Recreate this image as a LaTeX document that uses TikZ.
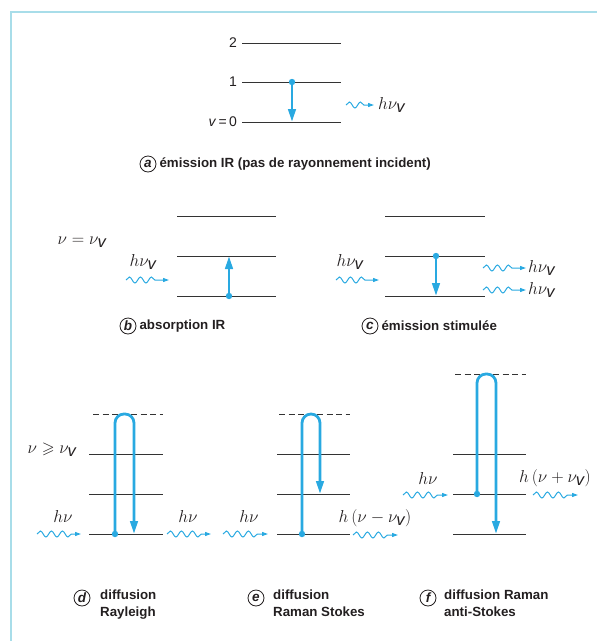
\documentclass[tikz,border=0pt]{standalone}
\usepackage{amssymb}
\usepackage{fontspec}
\setmainfont{Liberation Sans}
\usetikzlibrary{positioning,arrows.meta,decorations.pathmorphing}
\definecolor{framecyan}{HTML}{A8DDE9}
\definecolor{beamblue}{HTML}{29A9E1}
\definecolor{levelgray}{HTML}{333333}
\definecolor{inkdark}{HTML}{231F20}

\tikzset{
  levelline/.style={draw=levelgray, line width=1pt},
  virtual/.style={draw=levelgray, line width=0.9pt, dash pattern=on 6pt off 3.5pt},
  jump/.style={draw=beamblue, line width=2.8pt, -{Triangle[length=13pt,width=7.5pt]}},
  looppath/.style={jump, rounded corners=9pt},
  photon/.style={draw=beamblue, line width=1pt, -{Triangle[length=6pt,width=4pt]},
    decorate, decoration={snake, amplitude=3pt, segment length=11pt, post length=9pt}},
  lab/.style={text=inkdark, inner sep=0pt, font=\fontsize{14}{16}\selectfont},
  hnu/.style={text=inkdark, inner sep=0pt, font=\fontsize{16.5}{18}\selectfont},
  tag/.style={circle, draw=inkdark, line width=0.8pt, minimum size=16pt, inner sep=0pt,
    text=inkdark, font=\fontsize{13.5}{15}\selectfont\bfseries\itshape},
  captext/.style={text=inkdark, inner sep=0pt, align=left, font=\fontsize{13.3}{17}\selectfont\bfseries}
}

\begin{document}
\begin{tikzpicture}[x=1pt,y=-1pt]
\useasboundingbox (0,0) rectangle (597,641);
\draw[framecyan, line width=2pt] (11,641) -- (11,12) -- (597,12);

% (a) emission IR
\coordinate (a0l) at (242,122); \coordinate (a0r) at (341,122);
\coordinate (a1l) at (242,82);  \coordinate (a1r) at (341,82);
\coordinate (a2l) at (242,43);  \coordinate (a2r) at (341,43);
\draw[levelline] (a0l) -- (a0r);
\draw[levelline] (a1l) -- (a1r);
\draw[levelline] (a2l) -- (a2r);
\node[lab, left=5pt of a2l] (a2t) {2};
\node[lab, left=5pt of a1l] (a1t) {1};
\node[lab, left=5pt of a0l] (a0t) {\textit{v}\,=\,0};
\coordinate (aup) at (292,82); \coordinate (adn) at (292,122);
\draw[jump] (aup) -- (adn);
\fill[beamblue] (aup) circle (3.2pt);
\coordinate (aph1) at (346,105); \coordinate (aph2) at (374,105);
\draw[photon] (aph1) -- (aph2);
\node[hnu, right=4pt of aph2] (aout) {$h\nu_{\textit{v}}$};
\node[tag] (ta) at (148,164) {a};
\node[captext, right=3pt of ta] (ca) {émission IR (pas de rayonnement incident)};

% (b) absorption IR
\coordinate (b0l) at (177,296); \coordinate (b0r) at (276,296);
\coordinate (b1l) at (177,256); \coordinate (b1r) at (276,256);
\coordinate (b2l) at (177,216); \coordinate (b2r) at (276,216);
\draw[levelline] (b0l) -- (b0r);
\draw[levelline] (b1l) -- (b1r);
\draw[levelline] (b2l) -- (b2r);
\node[hnu] (bcond) at (82,242) {$\nu = \nu_{\textit{v}}$};
\coordinate (bdn) at (229,296); \coordinate (bup) at (229,256);
\draw[jump] (bdn) -- (bup);
\fill[beamblue] (bdn) circle (3.2pt);
\coordinate (bph1) at (126,280); \coordinate (bph2) at (169,280);
\draw[photon] (bph1) -- (bph2);
\node[hnu] (bin) at (143,262) {$h\nu_{\textit{v}}$};
\node[tag] (tb) at (128,326) {b};
\node[captext, right=3pt of tb] (cb) {absorption IR};

% (c) emission stimulee
\coordinate (c0l) at (385,296); \coordinate (c0r) at (485,296);
\coordinate (c1l) at (385,256); \coordinate (c1r) at (485,256);
\coordinate (c2l) at (385,216); \coordinate (c2r) at (485,216);
\draw[levelline] (c0l) -- (c0r);
\draw[levelline] (c1l) -- (c1r);
\draw[levelline] (c2l) -- (c2r);
\coordinate (cup) at (436,256); \coordinate (cdn) at (436,296);
\draw[jump] (cup) -- (cdn);
\fill[beamblue] (cup) circle (3.2pt);
\coordinate (cph1) at (336,280); \coordinate (cph2) at (379,280);
\draw[photon] (cph1) -- (cph2);
\node[hnu] (cin) at (350,262) {$h\nu_{\textit{v}}$};
\coordinate (cph3) at (483,268); \coordinate (cph4) at (526,268);
\coordinate (cph5) at (483,290); \coordinate (cph6) at (526,290);
\draw[photon] (cph3) -- (cph4);
\draw[photon] (cph5) -- (cph6);
\node[hnu, right=2pt of cph4] (cout1) {$h\nu_{\textit{v}}$};
\node[hnu, right=2pt of cph6] (cout2) {$h\nu_{\textit{v}}$};
\node[tag] (tc) at (370,326) {c};
\node[captext, right=3pt of tc] (cc) {émission stimulée};

% (d) diffusion Rayleigh
\coordinate (d0l) at (89,534);  \coordinate (d0r) at (163,534);
\coordinate (d1l) at (89,494);  \coordinate (d1r) at (163,494);
\coordinate (d2l) at (89,454);  \coordinate (d2r) at (163,454);
\coordinate (dvl) at (93,414);  \coordinate (dvr) at (163,414);
\draw[levelline] (d0l) -- (d0r);
\draw[levelline] (d1l) -- (d1r);
\draw[levelline] (d2l) -- (d2r);
\draw[virtual] (dvl) -- (dvr);
\node[hnu] (dcond) at (52,450) {$\nu \geqslant \nu_{\textit{v}}$};
\coordinate (dst) at (115,534); \coordinate (den) at (134,534);
\draw[looppath] (dst) -- (115,414) -- (134,414) -- (den);
\fill[beamblue] (dst) circle (3.2pt);
\coordinate (dph1) at (37,534); \coordinate (dph2) at (81,534);
\coordinate (dph3) at (167,534); \coordinate (dph4) at (211,534);
\draw[photon] (dph1) -- (dph2);
\draw[photon] (dph3) -- (dph4);
\node[hnu] (din) at (63,516) {$h\nu$};
\node[hnu] (dout) at (188,516) {$h\nu$};
\node[tag] (td) at (82,598) {d};
\node[captext, anchor=north west] (cd) at (100,590) {diffusion\\Rayleigh};

% (e) diffusion Raman Stokes
\coordinate (e0l) at (277,534); \coordinate (e0r) at (350,534);
\coordinate (e1l) at (277,494); \coordinate (e1r) at (350,494);
\coordinate (e2l) at (277,454); \coordinate (e2r) at (350,454);
\coordinate (evl) at (279,414); \coordinate (evr) at (350,414);
\draw[levelline] (e0l) -- (e0r);
\draw[levelline] (e1l) -- (e1r);
\draw[levelline] (e2l) -- (e2r);
\draw[virtual] (evl) -- (evr);
\coordinate (est) at (302,534); \coordinate (een) at (320,494);
\draw[looppath] (est) -- (302,414) -- (320,414) -- (een);
\fill[beamblue] (est) circle (3.2pt);
\coordinate (eph1) at (223,534); \coordinate (eph2) at (268,534);
\coordinate (eph3) at (353,535); \coordinate (eph4) at (398,535);
\draw[photon] (eph1) -- (eph2);
\draw[photon] (eph3) -- (eph4);
\node[hnu] (ein) at (249,516) {$h\nu$};
\node[hnu] (eout) at (375,518) {$h\,(\nu - \nu_{\textit{v}})$};
\node[tag] (te) at (256,598) {e};
\node[captext, anchor=north west] (ce) at (273,590) {diffusion\\Raman Stokes};

% (f) diffusion Raman anti-Stokes
\coordinate (f0l) at (453,534); \coordinate (f0r) at (526,534);
\coordinate (f1l) at (453,494); \coordinate (f1r) at (526,494);
\coordinate (f2l) at (453,454); \coordinate (f2r) at (526,454);
\coordinate (fvl) at (455,374); \coordinate (fvr) at (526,374);
\draw[levelline] (f0l) -- (f0r);
\draw[levelline] (f1l) -- (f1r);
\draw[levelline] (f2l) -- (f2r);
\draw[virtual] (fvl) -- (fvr);
\coordinate (fst) at (477,494); \coordinate (fen) at (496,534);
\draw[looppath] (fst) -- (477,374) -- (496,374) -- (fen);
\fill[beamblue] (fst) circle (3.2pt);
\coordinate (fph1) at (403,495); \coordinate (fph2) at (448,495);
\coordinate (fph3) at (533,495); \coordinate (fph4) at (578,495);
\draw[photon] (fph1) -- (fph2);
\draw[photon] (fph3) -- (fph4);
\node[hnu] (fin) at (428,478) {$h\nu$};
\node[hnu] (fout) at (555,478) {$h\,(\nu + \nu_{\textit{v}})$};
\node[tag] (tf) at (428,598) {f};
\node[captext, anchor=north west] (cf) at (444,590) {diffusion Raman\\anti-Stokes};
\end{tikzpicture}
\end{document}
